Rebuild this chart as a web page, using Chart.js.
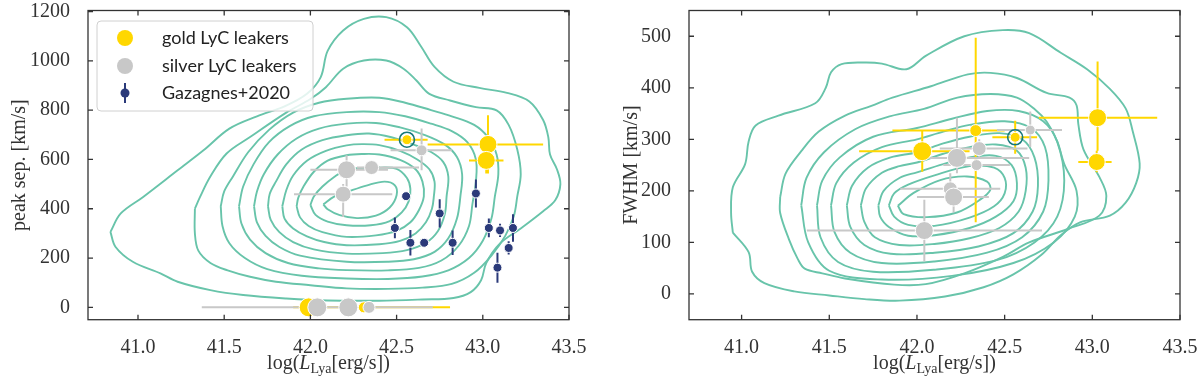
<!DOCTYPE html>
<html>
<head>
<meta charset="utf-8">
<script src="https://cdn.jsdelivr.net/npm/chart.js@4"></script>
<style>
  html, body { margin: 0; padding: 0; background: #fff; }
  #wrap { position: relative; width: 1200px; height: 382px; }
  .panel { position: absolute; top: 0; width: 600px; height: 382px; }
</style>
</head>
<body>
<div id="wrap">
  <div class="panel" style="left:0"><canvas id="sep-chart" width="600" height="382"></canvas></div>
  <div class="panel" style="left:600px"><canvas id="fwhm-chart" width="600" height="382"></canvas></div>
</div>
<script>
const TEAL = "#68c4aa";
const GOLD = "#ffd700";
const SILVER = "#c8c8c8";
const NAVY = "#2b3a7a";
const RING = "#16787a";
const INK = "#333333";
const SERIF = '"Liberation Serif", "DejaVu Serif", serif';
const SANS = 'Lato, "DejaVu Sans", sans-serif';

const legendLabels = ["gold LyC leakers", "silver LyC leakers", "Gazagnes+2020"];
const lumTicks = [41.0, 41.5, 42.0, 42.5, 43.0, 43.5];
const sepTicks = [0, 200, 400, 600, 800, 1000, 1200];
const fwhmTicks = [0, 100, 200, 300, 400, 500];

// ---- left panel: peak separation vs log L(Lya) ----
const sepGoldX = [42.56, 43.03, 43.02, 41.99, 42.31];
const sepGoldY = [680, 661, 596, 0, 0];
const sepGoldXLo = [42.43, 42.68, 42.92, 41.9, 42.2];
const sepGoldXHi = [42.68, 43.35, 43.12, 42.81, 42.45];
const sepGoldYLo = [null, 543, 543, null, null];
const sepGoldYHi = [null, 779, 610, null, null];
const sepRingIdx = [0];

const sepSilverX = [42.21, 42.355, 42.19, 42.645, 42.04, 42.22, 42.34];
const sepSilverY = [558, 567, 459, 637, 0, 0, 0];
const sepSilverXLo = [42.0, 42.27, 41.905, 42.465, 41.37, 42.15, 42.29];
const sepSilverXHi = [42.45, 42.63, 42.475, 42.82, 42.71, 42.3, 42.4];
const sepSilverYLo = [490, null, 367, 556, null, null, null];
const sepSilverYHi = [617, null, 500, 725, null, null, null];

const gazX = [42.49, 42.58, 42.66, 42.555, 42.75, 42.825, 42.96, 43.035, 43.10, 43.175, 43.15, 43.085];
const gazY = [322, 262, 262, 451, 381, 262, 462, 322, 312, 322, 241, 161];
const gazYErr = [42, 52, 13, 0, 57, 50, 57, 38, 27, 56, 27, 61];

// marker radii (px)
const sepGoldR = [5, 9, 9, 9.5, 5.5];
const sepSilverR = [9, 7, 8, 5.5, 9.5, 9.5, 6];

// KDE contours, outermost first
const sepContours = [
  [[40.84,306],[40.87,245],[40.97,185],[41.13,138],[41.23,104],[41.42,70],[41.61,50],[41.86,36],[42.1,28],[42.4,27],[42.65,32],[42.83,38],[42.93,62],[42.99,110],[43.02,180],[43.1,259],[43.22,320],[43.35,390],[43.42,434],[43.45,500],[43.43,560],[43.39,620],[43.38,690],[43.35,760],[43.27,835],[43.14,870],[42.98,890],[42.83,915],[42.72,975],[42.64,1060],[42.56,1136],[42.44,1177],[42.31,1170],[42.19,1123],[42.1,1040],[42.06,934],[41.98,866],[41.85,815],[41.69,775],[41.53,725],[41.38,637],[41.23,556],[41.03,448],[40.9,381]],
  [[41.33,400],[41.33,300],[41.35,230],[41.42,180],[41.52,150],[41.65,124],[41.8,104],[42.0,90],[42.21,77],[42.45,75],[42.65,80],[42.82,95],[42.95,140],[43.05,210],[43.13,290],[43.18,370],[43.2,450],[43.22,540],[43.2,640],[43.15,740],[43.08,799],[42.96,812],[42.81,839],[42.69,866],[42.615,920],[42.54,968],[42.44,1001],[42.31,1001],[42.19,968],[42.09,893],[42.0,845],[41.86,790],[41.65,691],[41.514,624],[41.418,529],[41.36,448]],
  [[41.48,410],[41.49,330],[41.53,260],[41.62,200],[41.75,155],[41.95,128],[42.21,117],[42.45,115],[42.65,125],[42.8,150],[42.92,200],[43.0,270],[43.05,360],[43.07,450],[43.09,540],[43.08,620],[43.03,690],[42.95,740],[42.82,775],[42.7,800],[42.55,830],[42.4,850],[42.21,846],[42.05,830],[41.9,790],[41.76,720],[41.64,630],[41.55,530],[41.5,470]],
  [[41.586,410],[41.6,340],[41.65,275],[41.74,220],[41.87,180],[42.05,158],[42.21,151],[42.45,150],[42.63,160],[42.76,190],[42.86,250],[42.92,330],[42.94,420],[42.96,510],[42.96,600],[42.91,670],[42.82,715],[42.7,745],[42.55,775],[42.4,792],[42.21,792],[42.02,775],[41.88,735],[41.76,670],[41.67,580],[41.61,490]],
  [[41.673,410],[41.69,345],[41.74,290],[41.82,245],[41.94,210],[42.21,185],[42.45,185],[42.6,195],[42.72,225],[42.8,280],[42.85,360],[42.87,450],[42.88,540],[42.85,610],[42.78,660],[42.66,700],[42.52,730],[42.38,748],[42.21,745],[42.05,725],[41.92,685],[41.81,620],[41.73,540],[41.69,470]],
  [[41.754,410],[41.77,355],[41.82,305],[41.9,265],[42.02,235],[42.21,218],[42.42,220],[42.56,232],[42.67,262],[42.74,310],[42.78,380],[42.79,450],[42.8,530],[42.77,590],[42.7,630],[42.6,660],[42.47,690],[42.34,705],[42.21,698],[42.07,678],[41.95,640],[41.86,580],[41.8,510],[41.764,460]],
  [[41.837,410],[41.85,360],[41.9,320],[41.98,288],[42.08,265],[42.21,252],[42.4,256],[42.52,270],[42.61,300],[42.67,345],[42.705,400],[42.716,450],[42.72,510],[42.69,560],[42.62,600],[42.52,635],[42.4,658],[42.3,662],[42.21,657],[42.09,635],[41.98,595],[41.9,535],[41.86,475]],
  [[41.92,410],[41.94,365],[41.99,330],[42.07,305],[42.21,286],[42.38,292],[42.5,310],[42.58,345],[42.63,395],[42.658,450],[42.65,510],[42.61,560],[42.52,598],[42.4,620],[42.3,622],[42.21,617],[42.1,595],[42.02,550],[41.96,490],[41.93,445]],
  [[42.0,415],[42.03,375],[42.1,348],[42.21,333],[42.35,333],[42.46,350],[42.53,385],[42.57,430],[42.58,480],[42.56,525],[42.5,562],[42.4,567],[42.29,565],[42.21,558],[42.14,530],[42.07,490],[42.02,450]],
  [[42.075,418],[42.1,398],[42.17,374],[42.27,362],[42.38,372],[42.46,405],[42.5,455],[42.49,495],[42.43,510],[42.33,495],[42.22,470],[42.14,450]],
];

// ---- right panel: FWHM vs log L(Lya) ----
const fwhmGoldX = [42.03, 42.335, 42.56, 43.03, 43.025];
const fwhmGoldY = [277, 317, 304, 342, 256];
const fwhmGoldXLo = [41.67, 41.86, 42.43, 42.695, 42.92];
const fwhmGoldXHi = [42.3, 42.5, 42.685, 43.37, 43.11];
const fwhmGoldYLo = [237, 139, 272, 278, 236];
const fwhmGoldYHi = [317, 497, 336, 451, 278];
const fwhmRingIdx = [2];

const fwhmSilverX = [42.228, 42.355, 42.34, 42.646, 42.19, 42.209, 42.042];
const fwhmSilverY = [264, 282, 250, 318, 204, 188, 123];
const fwhmSilverXLo = [42.07, 42.13, 42.15, 42.456, 41.905, 42.0, 41.372];
const fwhmSilverXHi = [42.64, 42.63, 42.53, 42.827, 42.475, 42.41, 42.713];
const fwhmSilverYLo = [234, 265, 240, 285, 180, 158, 63];
const fwhmSilverYHi = [342, 300, 262, 354, 234, 210, 183];

const fwhmGoldR = [9.5, 6, 5, 9, 8.5];
const fwhmSilverR = [9.5, 7, 5.5, 5, 7, 9, 9];

const fwhmContours = [
  [[40.95,119],[40.94,157],[40.95,207],[41.02,252],[41.04,296],[41.08,327],[41.21,346],[41.42,370],[41.48,400],[41.51,430],[41.57,446],[41.70,449],[41.8,447],[41.94,436],[42.05,462],[42.27,500],[42.49,512],[42.64,506],[42.82,468],[42.97,436],[43.1,398],[43.19,360],[43.23,316],[43.27,253],[43.25,215],[43.19,177],[43.1,152],[42.93,139],[42.82,114],[42.71,76],[42.55,38],[42.38,13],[42.16,-5],[41.9,-13],[41.7,-10],[41.5,-3],[41.3,5],[41.13,21],[41.06,43],[41.04,81]],
  [[41.22,188],[41.22,157],[41.27,106],[41.32,68],[41.36,49],[41.46,40],[41.59,30],[41.87,18],[42.05,19],[42.27,40],[42.49,72],[42.64,100],[42.86,126],[43.04,152],[43.08,190],[43.04,227],[42.95,280],[42.92,330],[42.91,366],[42.87,381],[42.74,390],[42.57,419],[42.42,429],[42.29,426],[42.08,403],[41.86,381],[41.74,365],[41.59,346],[41.44,315],[41.34,277],[41.25,233]],
  [[41.34,172],[41.37,225],[41.47,275],[41.65,320],[41.85,345],[42.04,359],[42.23,381],[42.42,388],[42.57,381],[42.67,359],[42.74,334],[42.8,296],[42.84,252],[42.91,200],[42.9,150],[42.78,100],[42.55,60],[42.2,35],[41.8,28],[41.5,45],[41.38,100]],
  [[41.43,172],[41.46,220],[41.56,265],[41.75,305],[42.0,322],[42.2,340],[42.4,355],[42.58,355],[42.72,335],[42.8,295],[42.84,220],[42.8,150],[42.67,100],[42.45,65],[42.1,47],[41.75,43],[41.55,62],[41.45,110]],
  [[41.51,172],[41.54,215],[41.64,255],[41.8,285],[42.0,300],[42.15,315],[42.3,328],[42.5,335],[42.65,322],[42.73,285],[42.75,220],[42.72,160],[42.6,110],[42.4,80],[42.1,63],[41.8,60],[41.62,80],[41.53,120]],
  [[41.60,172],[41.63,210],[41.72,245],[41.85,265],[42.0,275],[42.15,292],[42.3,305],[42.47,312],[42.6,300],[42.67,265],[42.69,210],[42.66,160],[42.55,118],[42.35,92],[42.1,80],[41.85,78],[41.7,95],[41.62,130]],
  [[41.68,172],[41.71,205],[41.8,235],[41.9,248],[42.0,255],[42.15,272],[42.3,285],[42.45,290],[42.57,278],[42.62,245],[42.62,200],[42.58,160],[42.47,128],[42.3,108],[42.1,97],[41.9,95],[41.76,110],[41.7,140]],
  [[41.78,172],[41.81,200],[41.9,225],[42.0,236],[42.15,252],[42.3,265],[42.45,268],[42.54,250],[42.57,215],[42.55,180],[42.45,150],[42.3,128],[42.1,114],[41.95,113],[41.84,130],[41.79,150]],
  [[41.84,172],[41.87,195],[41.95,212],[42.1,230],[42.3,248],[42.44,245],[42.5,225],[42.5,195],[42.44,170],[42.3,148],[42.1,132],[41.95,134],[41.87,150]],
  [[41.891,171],[41.981,196],[42.133,221],[42.285,228],[42.40,218],[42.418,202],[42.36,183],[42.228,158],[42.057,149],[41.924,155]],
];

// ---------- helpers ----------
function contourDataset(pts) {
  return {
    data: pts.concat([pts[0]]).map(([x, y]) => ({ x, y })),
    showLine: true,
    borderColor: TEAL,
    borderWidth: 1.9,
    pointRadius: 0,
    tension: 0.35,
    order: 20,
  };
}

function errorDataset(xs, ys, xlo, xhi, ylo, yhi, color, order) {
  const data = [];
  xs.forEach((x, i) => {
    if (xlo && xlo[i] != null) {
      data.push({ x: xlo[i], y: ys[i] }, { x: xhi[i], y: ys[i] }, { x: NaN, y: NaN });
    }
    if (ylo && ylo[i] != null && ylo[i] !== yhi[i]) {
      data.push({ x, y: ylo[i] }, { x, y: yhi[i] }, { x: NaN, y: NaN });
    }
  });
  return {
    data,
    showLine: true,
    spanGaps: false,
    borderColor: color,
    borderWidth: 2,
    pointRadius: 0,
    tension: 0,
    order,
  };
}

function markerDataset(xs, ys, radii, color, order, label) {
  return {
    label,
    data: xs.map((x, i) => ({ x, y: ys[i] })),
    backgroundColor: color,
    borderColor: "#ffffff",
    borderWidth: 1,
    pointRadius: radii,
    pointHoverRadius: radii,
    order,
  };
}

function ringDataset(xs, ys, idx) {
  return {
    data: idx.map((i) => ({ x: xs[i], y: ys[i] })),
    backgroundColor: "rgba(0,0,0,0)",
    borderColor: RING,
    borderWidth: 1.6,
    pointRadius: 7.5,
    order: 3,
  };
}

const framePlugin = {
  id: "frame",
  afterDraw(chart) {
    const { ctx, chartArea: a, scales } = chart;
    const len = 5;
    ctx.save();
    ctx.strokeStyle = INK;
    ctx.lineWidth = 1.3;
    ctx.strokeRect(a.left, a.top, a.right - a.left, a.bottom - a.top);
    ctx.beginPath();
    scales.x.ticks.forEach((t) => {
      const p = scales.x.getPixelForValue(t.value);
      ctx.moveTo(p, a.bottom); ctx.lineTo(p, a.bottom - len);
      ctx.moveTo(p, a.top); ctx.lineTo(p, a.top + len);
    });
    scales.y.ticks.forEach((t) => {
      const p = scales.y.getPixelForValue(t.value);
      ctx.moveTo(a.left, p); ctx.lineTo(a.left + len, p);
      ctx.moveTo(a.right, p); ctx.lineTo(a.right - len, p);
    });
    ctx.stroke();

    // x title: log(L_Lya[erg/s])
    const parts = [
      { t: "log(", f: `20px ${SERIF}`, dy: 0 },
      { t: "L", f: `italic 20px ${SERIF}`, dy: 0 },
      { t: "Lya", f: `14px ${SERIF}`, dy: 4 },
      { t: "[erg/s])", f: `20px ${SERIF}`, dy: 0 },
    ];
    let w = 0;
    parts.forEach((p) => { ctx.font = p.f; p.w = ctx.measureText(p.t).width; w += p.w; });
    let x = (a.left + a.right) / 2 - w / 2;
    const base = 369;
    ctx.fillStyle = INK;
    ctx.textBaseline = "alphabetic";
    ctx.textAlign = "left";
    parts.forEach((p) => { ctx.font = p.f; ctx.fillText(p.t, x, base + p.dy); x += p.w; });
    ctx.restore();
  },
};

const legendPlugin = {
  id: "boxLegend",
  afterDatasetsDraw(chart, args, opts) {
    if (!opts.show) return;
    const { ctx } = chart;
    const bx = 97, by = 21, bw = 216, bh = 90;
    ctx.save();
    ctx.beginPath();
    ctx.roundRect(bx, by, bw, bh, 4);
    ctx.fillStyle = "rgba(255,255,255,0.82)";
    ctx.fill();
    ctx.strokeStyle = "#d0d0d0";
    ctx.lineWidth = 1;
    ctx.stroke();
    const rows = [38, 66, 93];
    const mx = 125;
    ctx.fillStyle = GOLD;
    ctx.beginPath(); ctx.arc(mx, rows[0], 8, 0, Math.PI * 2); ctx.fill();
    ctx.fillStyle = SILVER;
    ctx.beginPath(); ctx.arc(mx, rows[1], 8, 0, Math.PI * 2); ctx.fill();
    ctx.strokeStyle = NAVY;
    ctx.lineWidth = 2;
    ctx.beginPath(); ctx.moveTo(mx, rows[2] - 10); ctx.lineTo(mx, rows[2] + 10); ctx.stroke();
    ctx.fillStyle = NAVY;
    ctx.beginPath(); ctx.arc(mx, rows[2], 4.5, 0, Math.PI * 2); ctx.fill();
    ctx.fillStyle = "#222";
    ctx.font = `18px ${SANS}`;
    ctx.textBaseline = "middle";
    ctx.textAlign = "left";
    legendLabels.forEach((t, i) => ctx.fillText(t, 162, rows[i]));
    ctx.restore();
  },
};

function makeChart(id, cfg) {
  const ctx = document.getElementById(id);
  return new Chart(ctx, {
    type: "scatter",
    data: { datasets: cfg.datasets },
    options: {
      responsive: false,
      animation: false,
      devicePixelRatio: 1,
      events: [],
      layout: { padding: cfg.padding },
      plugins: {
        legend: { display: false },
        tooltip: { enabled: false },
        boxLegend: { show: cfg.legend },
      },
      scales: {
        x: {
          type: "linear",
          min: cfg.xMin,
          max: 43.5,
          grid: { display: false },
          border: { display: false },
          afterBuildTicks: (s) => { s.ticks = lumTicks.map((v) => ({ value: v })); },
          afterFit: (s) => {
            s.height = cfg.xHeight;
            s.paddingLeft = 0;
            s.paddingRight = 0;
          },
          ticks: {
            autoSkip: false,
            maxRotation: 0,
            padding: 8,
            color: INK,
            font: { family: SERIF, size: 20 },
            callback: (v) => Number(v).toFixed(1),
          },
        },
        y: {
          type: "linear",
          min: cfg.yMin,
          max: cfg.yMax,
          grid: { display: false },
          border: { display: false },
          afterBuildTicks: (s) => { s.ticks = cfg.yTicks.map((v) => ({ value: v })); },
          afterFit: (s) => {
            s.width = cfg.yWidth;
            s.paddingTop = 0;
            s.paddingBottom = 0;
          },
          title: {
            display: true,
            text: cfg.yTitle,
            color: INK,
            font: { family: SERIF, size: 20 },
            padding: { top: cfg.yTitlePad, bottom: 0 },
          },
          ticks: {
            autoSkip: false,
            padding: 10,
            color: INK,
            font: { family: SERIF, size: 20 },
            callback: (v) => String(v),
          },
        },
      },
    },
    plugins: [legendPlugin, framePlugin],
  });
}

const sepDatasets = [
  ...sepContours.map(contourDataset),
  errorDataset(sepGoldX, sepGoldY, sepGoldXLo, sepGoldXHi, sepGoldYLo, sepGoldYHi, GOLD, 12),
  errorDataset(sepSilverX, sepSilverY, sepSilverXLo, sepSilverXHi, sepSilverYLo, sepSilverYHi, SILVER, 11),
  markerDataset(sepGoldX, sepGoldY, sepGoldR, GOLD, 6, legendLabels[0]),
  markerDataset(sepSilverX, sepSilverY, sepSilverR, SILVER, 5, legendLabels[1]),
  ringDataset(sepGoldX, sepGoldY, sepRingIdx),
  errorDataset(gazX, gazY, null, null, gazY.map((v, i) => v - gazYErr[i]), gazY.map((v, i) => v + gazYErr[i]), NAVY, 2),
  markerDataset(gazX, gazY, 4.5, NAVY, 1, legendLabels[2]),
];

const fwhmDatasets = [
  ...fwhmContours.map(contourDataset),
  errorDataset(fwhmGoldX, fwhmGoldY, fwhmGoldXLo, fwhmGoldXHi, fwhmGoldYLo, fwhmGoldYHi, GOLD, 12),
  errorDataset(fwhmSilverX, fwhmSilverY, fwhmSilverXLo, fwhmSilverXHi, fwhmSilverYLo, fwhmSilverYHi, SILVER, 11),
  markerDataset(fwhmGoldX, fwhmGoldY, fwhmGoldR, GOLD, 6, legendLabels[0]),
  markerDataset(fwhmSilverX, fwhmSilverY, fwhmSilverR, SILVER, 5, legendLabels[1]),
  ringDataset(fwhmGoldX, fwhmGoldY, fwhmRingIdx),
];

makeChart("sep-chart", {
  datasets: sepDatasets,
  padding: { left: 0, right: 31, top: 10, bottom: 0 },
  xMin: 40.71, xHeight: 62.3,
  yMin: -50, yMax: 1204, yTicks: sepTicks, yWidth: 88,
  yTitle: "peak sep. [km/s]", yTitlePad: 8,
  legend: true,
});

makeChart("fwhm-chart", {
  datasets: fwhmDatasets,
  padding: { left: 0, right: 20, top: 3.5, bottom: 0 },
  xMin: 40.70, xHeight: 62.3,
  yMin: -50, yMax: 550, yTicks: fwhmTicks, yWidth: 89,
  yTitle: "FWHM [km/s]", yTitlePad: 20,
  legend: false,
});
</script>
</body>
</html>
